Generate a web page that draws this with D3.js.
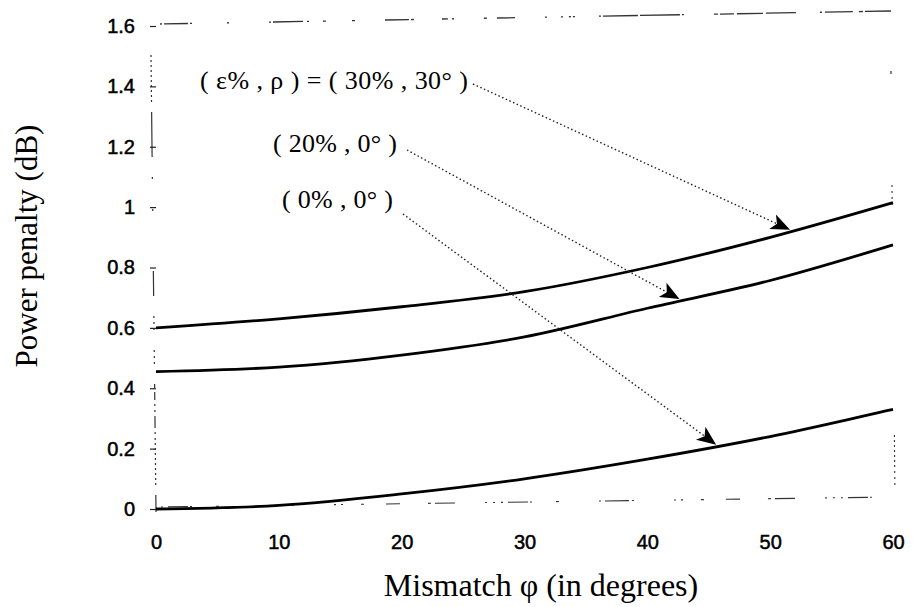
<!DOCTYPE html>
<html>
<head>
<meta charset="utf-8">
<script src="https://cdn.jsdelivr.net/npm/d3@7"></script>
<style>
  body { margin: 0; background: #fff; }
  svg { display: block; }
</style>
</head>
<body>
<svg id="chart" width="915" height="607"></svg>
<script>
// mismatch angle (degrees) sampled along each curve
const mismatch = [0, 10, 20, 30, 40, 50, 60];
// power penalty (dB) per configuration (eps%, rho)
const penalty30_30 = [0.60, 0.63, 0.67, 0.72, 0.80, 0.90, 1.015];
const penalty20_0 = [0.455, 0.47, 0.51, 0.57, 0.665, 0.757, 0.875];
const penalty0_0 = [0.0, 0.012, 0.05, 0.10, 0.165, 0.24, 0.33];

const xTicks = [0, 10, 20, 30, 40, 50, 60];
const yTicks = [0, 0.2, 0.4, 0.6, 0.8, 1, 1.2, 1.4, 1.6];

// annotation labels and the angle each arrow points to on its curve
const labels = ["( ε% , ρ ) = ( 30% , 30° )", "( 20% , 0° )", "( 0% , 0° )"];
const arrowAt = [51.5, 42.5, 45.5];

const series = [penalty30_30, penalty20_0, penalty0_0];

const svg = d3.select("#chart");
const plotLeft = 156, plotRight = 893, plotTop = 26, plotBottom = 509;

const x = d3.scaleLinear().domain([0, 60]).range([plotLeft, plotRight]);
const y = d3.scaleLinear().domain([0, 1.6]).range([plotBottom, plotTop]);

const SANS = "Liberation Sans, Arial, sans-serif";
const SERIF = "Liberation Serif, Times New Roman, serif";

/*
    Frame: the scanned original shows broken, dotted borders, so each side is
    drawn with its own dash pattern (the scan is also slightly skewed)
*/
const frame = svg.append("g").attr("fill", "none").attr("stroke", "#333");
frame.append("line")
    .attr("x1", plotLeft - 5).attr("x2", plotLeft).attr("y1", 55).attr("y2", plotBottom + 3)
    .attr("stroke-width", 1.2).attr("stroke-dasharray", "2,3,2,3,2,3,2,3,2,3,2,3,2,3,2,3,2,3,2,10,45,20,2,30,2,60,25,20,2,4,2,4,2,20,2,4,2,4,2,20,4,4,8,4,2,4,2,4,12,4,2,4");
frame.append("line")
    .attr("x1", plotLeft + 4).attr("x2", plotRight - 2).attr("y1", 24).attr("y2", 11)
    .attr("stroke-width", 1.3).attr("stroke-dasharray", "2,2,24,2,2,35,2,40,2,2,30,4,2,14,3,26,3,30,24,2,3,28,6,4,2,30,3,10,18,30,2,14,2,6,2");
frame.append("line")
    .attr("x1", plotLeft + 5).attr("x2", plotRight).attr("y1", 507).attr("y2", 497)
    .attr("stroke-width", 1.1).attr("stroke-dasharray", "2,5,20,2,2,24,3,40,2,4,24,3,2,40,2,5,2,18,3,22,14,28,3,4,20,30,2,6,2,6");
frame.append("line")
    .attr("x1", plotRight - 1).attr("x2", plotRight + 2).attr("y1", 185).attr("y2", plotBottom - 8)
    .attr("stroke-width", 1.1).attr("stroke-dasharray", "2,4,2,4,2,4,2,230,2,3,2,3,2,3,2,3,2,3,2,3");
frame.append("line")
    .attr("x1", plotRight - 2).attr("x2", plotRight - 2).attr("y1", 71).attr("y2", 74)
    .attr("stroke-width", 1.2);

// y axis ticks and labels
const yAxis = d3.axisLeft(y).tickValues(yTicks).tickSize(6).tickPadding(15)
    .tickFormat(d => d === 1 ? "1" : d === 0 ? "0" : d3.format(".1f")(d));
const gy = svg.append("g").attr("transform", `translate(${plotLeft},0)`).call(yAxis);
gy.select(".domain").remove();
gy.selectAll(".tick line").attr("stroke", "#222").attr("stroke-width", 1.2);
gy.selectAll(".tick text")
    .attr("font-family", SANS).attr("font-size", 20)
    .attr("fill", "#000").attr("stroke", "#000").attr("stroke-width", 0.5);

// x axis labels (no visible ticks in the original)
const xAxis = d3.axisBottom(x).tickValues(xTicks).tickSize(0).tickPadding(26);
const gx = svg.append("g").attr("transform", `translate(0,${plotBottom})`).call(xAxis);
gx.select(".domain").remove();
gx.selectAll(".tick text")
    .attr("font-family", SANS).attr("font-size", 20)
    .attr("fill", "#000").attr("stroke", "#000").attr("stroke-width", 0.5);

// axis titles
svg.append("text")
    .attr("transform", `translate(37,246) rotate(-90)`)
    .attr("text-anchor", "middle")
    .attr("font-family", SERIF)
    .attr("font-size", 31)
    .text("Power penalty (dB)");
svg.append("text")
    .attr("x", 541).attr("y", 596)
    .attr("text-anchor", "middle")
    .attr("font-family", SERIF)
    .attr("font-size", 32)
    .text("Mismatch φ (in degrees)");

// curves
const line = d3.line()
    .x((d, i) => x(mismatch[i]))
    .y(d => y(d))
    .curve(d3.curveCatmullRom.alpha(0.5));

svg.append("g").selectAll("path")
    .data(series)
    .join("path")
    .attr("d", line)
    .attr("fill", "none")
    .attr("stroke", "#000")
    .attr("stroke-width", 2.8);

// arrowhead marker
svg.append("defs").append("marker")
    .attr("id", "head")
    .attr("viewBox", "0 0 12 10")
    .attr("refX", 11).attr("refY", 5)
    .attr("markerWidth", 22).attr("markerHeight", 16)
    .attr("markerUnits", "userSpaceOnUse")
    .attr("orient", "auto")
    .append("path")
    .attr("d", "M0,0 L12,5 L0,10 L3,5 Z")
    .attr("fill", "#000");

// label positions (text start, baseline), widths, and where the arrows begin
const labelPos = [[200, 89], [273, 152], [282, 208]];
const labelWidth = [268, 124, 111];
const arrowStart = [[473, 84], [407, 150], [403, 214]];

// value on a curve at a given angle, read linearly between samples
function valueAt(values, deg) {
    const i = Math.min(Math.floor(deg / 10), mismatch.length - 2);
    const t = (deg - mismatch[i]) / 10;
    return values[i] + t * (values[i + 1] - values[i]);
}

const ann = svg.append("g");
labels.forEach((lab, k) => {
    ann.append("text")
        .attr("x", labelPos[k][0]).attr("y", labelPos[k][1])
        .attr("font-family", SERIF)
        .attr("font-size", 26)
        .attr("textLength", labelWidth[k])
        .attr("lengthAdjust", "spacing")
        .text(lab);
    const tx = x(arrowAt[k]);
    const ty = y(valueAt(series[k], arrowAt[k])) - 3;
    ann.append("line")
        .attr("x1", arrowStart[k][0]).attr("y1", arrowStart[k][1])
        .attr("x2", tx).attr("y2", ty)
        .attr("stroke", "#222")
        .attr("stroke-width", 1.4)
        .attr("stroke-dasharray", "1.5,2.5")
        .attr("marker-end", "url(#head)");
});
</script>
</body>
</html>
